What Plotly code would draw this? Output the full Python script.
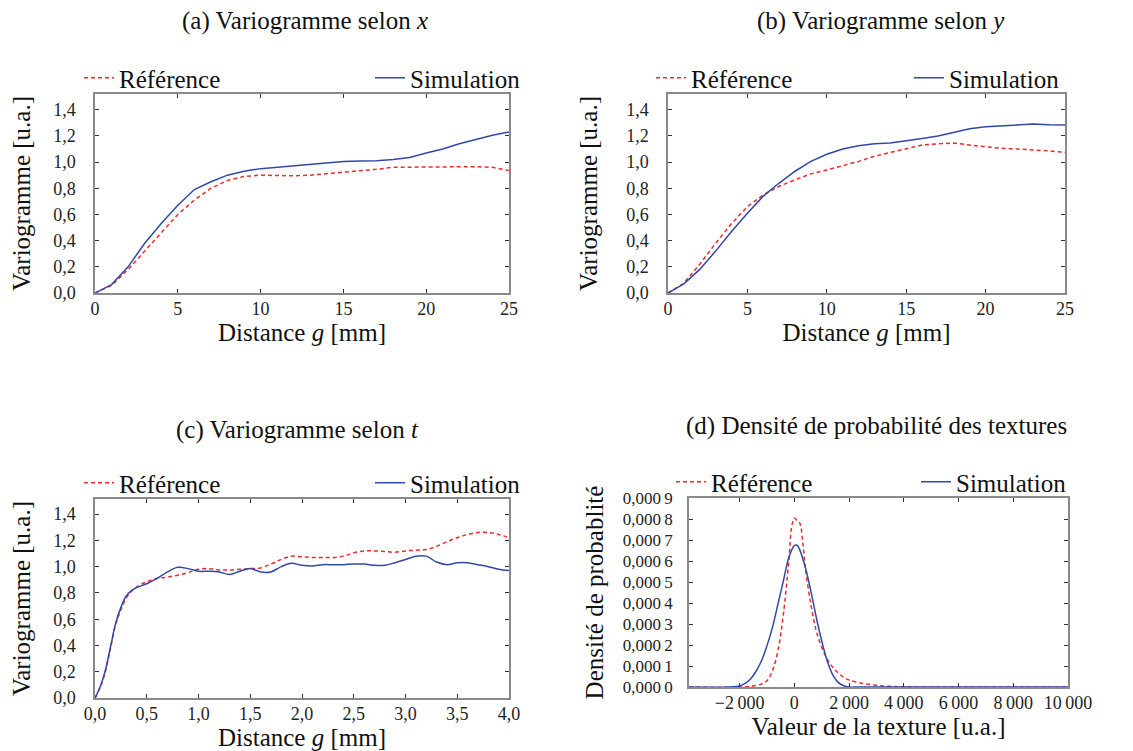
import plotly.graph_objects as go

# (a) variogram along x
gx = list(range(26))
ref_a = [0, 0.058, 0.18, 0.32, 0.46, 0.60, 0.71, 0.80, 0.86, 0.89, 0.90, 0.898, 0.895, 0.90, 0.91,
         0.92, 0.935, 0.945, 0.96, 0.962, 0.96, 0.962, 0.965, 0.965, 0.96, 0.935]
sim_a = [0, 0.064, 0.20, 0.38, 0.53, 0.67, 0.79, 0.85, 0.90, 0.93, 0.95, 0.96, 0.97, 0.985, 0.995,
         1.005, 1.008, 1.01, 1.02, 1.035, 1.07, 1.10, 1.14, 1.175, 1.205, 1.23]

# (b) variogram along y
ref_b = [0, 0.075, 0.22, 0.38, 0.53, 0.66, 0.75, 0.815, 0.865, 0.91, 0.94, 0.97, 1.005, 1.045, 1.075,
         1.105, 1.13, 1.14, 1.145, 1.13, 1.115, 1.105, 1.10, 1.095, 1.085, 1.075]
sim_b = [0, 0.07, 0.18, 0.32, 0.47, 0.61, 0.74, 0.84, 0.93, 1.005, 1.06, 1.10, 1.125, 1.14, 1.145,
         1.16, 1.18, 1.20, 1.23, 1.255, 1.27, 1.275, 1.28, 1.29, 1.285, 1.283]

# (c) variogram along t
gt = [0, 0.05, 0.1, 0.15, 0.2, 0.25, 0.3, 0.35, 0.4, 0.5, 0.6, 0.7, 0.8, 0.9, 1.0, 1.1, 1.2, 1.3,
      1.4, 1.5, 1.6, 1.7, 1.8, 1.9, 2.0, 2.1, 2.2, 2.3, 2.4, 2.5, 2.6, 2.7, 2.8, 2.9, 3.0, 3.1,
      3.2, 3.3, 3.4, 3.5, 3.6, 3.7, 3.8, 3.9, 4.0]
ref_c = [0, 0.08, 0.20, 0.38, 0.56, 0.67, 0.76, 0.81, 0.845, 0.885, 0.91, 0.92, 0.935, 0.955, 0.98,
         0.985, 0.975, 0.975, 0.98, 0.985, 0.99, 1.02, 1.055, 1.08, 1.075, 1.07, 1.07, 1.07, 1.08,
         1.105, 1.12, 1.12, 1.115, 1.11, 1.12, 1.125, 1.13, 1.155, 1.19, 1.22, 1.245, 1.26, 1.26,
         1.245, 1.22]
sim_c = [0, 0.085, 0.21, 0.39, 0.57, 0.69, 0.775, 0.815, 0.84, 0.87, 0.91, 0.96, 0.995, 0.985, 0.965,
         0.965, 0.96, 0.94, 0.965, 0.985, 0.96, 0.96, 1.0, 1.025, 1.01, 1.005, 1.015, 1.015, 1.015,
         1.02, 1.02, 1.01, 1.01, 1.03, 1.055, 1.08, 1.08, 1.035, 1.015, 1.03, 1.03, 1.015, 1.0,
         0.98, 0.97]

# (d) probability density of textures
tex_ref = [-3850, -2000, -1600, -1200, -1000, -800, -600, -400, -200, -100, 0, 100, 200, 300, 400,
           600, 800, 1000, 1200, 1400, 1600, 1800, 2000, 2500, 3000, 3500, 4000, 5000, 10000]
dens_ref = [0, 0, 0.000003, 0.000014, 0.00003, 0.000078, 0.000173, 0.000348, 0.000602, 0.00076,
            0.000805, 0.000792, 0.00078, 0.000697, 0.00057, 0.000395, 0.000268, 0.000189, 0.000133,
            0.000094, 0.000067, 0.000046, 0.000033, 0.000017, 0.000008, 0.000003, 0.000001, 0, 0]
tex_sim = [-3850, -2400, -2000, -1800, -1600, -1400, -1200, -1000, -800, -600, -400, -200, 0, 100,
           200, 400, 600, 800, 1000, 1200, 1400, 1600, 1800, 2000, 2400, 10000]
dens_sim = [0, 0, 0.000005, 0.000017, 0.000038, 0.000075, 0.000125, 0.000197, 0.000284, 0.000395,
            0.000506, 0.000617, 0.000673, 0.000675, 0.000652, 0.00057, 0.000459, 0.000332, 0.00022,
            0.000125, 0.000059, 0.000022, 0.000006, 0, 0, 0]

vario_ticks = [0, 0.2, 0.4, 0.6, 0.8, 1.0, 1.2, 1.4]
vario_labels = ["0,0", "0,2", "0,4", "0,6", "0,8", "1,0", "1,2", "1,4"]
t_ticks = [0, 0.5, 1, 1.5, 2, 2.5, 3, 3.5, 4]
t_labels = ["0,0", "0,5", "1,0", "1,5", "2,0", "2,5", "3,0", "3,5", "4,0"]
dens_ticks = [i / 10000 for i in range(10)]
dens_labels = ["0,000\u2009%d" % i for i in range(10)]
tex_ticks = [-2000, 0, 2000, 4000, 6000, 8000, 10000]
tex_labels = ["\u22122\u2009000", "0", "2\u2009000", "4\u2009000", "6\u2009000", "8\u2009000", "10\u2009000"]

# page is drawn with the browser's 8px body margin, so positions below are page pixels
OFF = 8
W, H = 1120, 746
FONT = "'Liberation Serif', 'Times New Roman', 'DejaVu Serif', serif"
RED = "#f02a2a"
BLUE = "#3048a8"


def px(x):
    return (x - OFF) / W


def py(y):
    return 1 - (y - OFF) / H


fig = go.Figure()

panels = [
    (gx, ref_a, sim_a, "", "linear"),
    (gx, ref_b, sim_b, "2", "linear"),
    (gt, ref_c, sim_c, "3", "spline"),
]
leg = 1
for xs, r, s, ax, shape in panels:
    fig.add_trace(go.Scatter(x=xs, y=r, mode="lines", name="Référence",
                             line=dict(color=RED, width=1.5, dash="4px,3px", shape=shape),
                             xaxis="x" + ax, yaxis="y" + ax,
                             legend="legend" if leg == 1 else "legend%d" % leg))
    fig.add_trace(go.Scatter(x=xs, y=s, mode="lines", name="Simulation",
                             line=dict(color=BLUE, width=1.5, shape=shape),
                             xaxis="x" + ax, yaxis="y" + ax, legend="legend%d" % (leg + 1)))
    leg += 2

fig.add_trace(go.Scatter(x=tex_ref, y=dens_ref, mode="lines", name="Référence",
                         line=dict(color=RED, width=1.5, dash="4px,3px", shape="spline"),
                         xaxis="x4", yaxis="y4", legend="legend7"))
fig.add_trace(go.Scatter(x=tex_sim, y=dens_sim, mode="lines", name="Simulation",
                         line=dict(color=BLUE, width=1.5, shape="spline"),
                         xaxis="x4", yaxis="y4", legend="legend8"))

tickfont = dict(family=FONT, size=18, color="#222")
titlefont = dict(family=FONT, size=25, color="#111")


def xaxis(dom, rng, tv, tt, anchor):
    return dict(domain=[px(dom[0]), px(dom[1])], range=rng, tickvals=tv, ticktext=tt,
                anchor=anchor, showgrid=False, zeroline=False, showline=True, automargin=False,
                linecolor="#8a8a8a", linewidth=2, mirror="ticks", ticks="inside",
                ticklen=4, tickcolor="#333", tickfont=tickfont, ticklabelstandoff=-2,
                title=dict(font=titlefont, standoff=4))


def yaxis(dom, rng, tv, tt, anchor):
    return dict(domain=[py(dom[1]), py(dom[0])], range=rng, tickvals=tv, ticktext=tt,
                anchor=anchor, showgrid=False, zeroline=False, showline=True, automargin=False,
                linecolor="#8a8a8a", linewidth=1.5, mirror="ticks", ticks="inside",
                ticklen=4, tickcolor="#333", tickfont=tickfont, ticklabelstandoff=14,
                title=dict(font=titlefont, standoff=21))


xa = xaxis((95, 509), [0, 25], [0, 5, 10, 15, 20, 25], ["0", "5", "10", "15", "20", "25"], "y")
xa["title"]["text"] = "Distance <i>g</i> [mm]"
ya = yaxis((94, 293), [0, 1.52], vario_ticks, vario_labels, "x")
ya["title"]["text"] = "Variogramme [u.a.]"

xb = xaxis((668, 1065), [0, 25], [0, 5, 10, 15, 20, 25], ["0", "5", "10", "15", "20", "25"], "y2")
xb["title"]["text"] = "Distance <i>g</i> [mm]"
yb = yaxis((94, 293), [0, 1.52], vario_ticks, vario_labels, "x2")
yb["title"]["text"] = "Variogramme [u.a.]"

xc = xaxis((95, 509), [0, 4], t_ticks, t_labels, "y3")
xc["title"]["text"] = "Distance <i>g</i> [mm]"
yc = yaxis((499, 698), [0, 1.515], vario_ticks, vario_labels, "x3")
yc["title"]["text"] = "Variogramme [u.a.]"

xd = xaxis((689, 1068), [-3850, 10000], tex_ticks, tex_labels, "y4")
xd["title"]["text"] = "Valeur de la texture [u.a.]"
yd = yaxis((498, 687), [0, 0.0009], dens_ticks, dens_labels, "x4")
yd["title"]["text"] = "Densité de probablité"
yd["ticklabelstandoff"] = 11
yd["title"]["standoff"] = 12
yd["tickfont"] = dict(family=FONT, size=17, color="#222")


def legend_at(x, y, anchor):
    return dict(x=px(x), y=py(y), xanchor=anchor, yanchor="middle", bgcolor="rgba(0,0,0,0)",
                borderwidth=0, itemwidth=30, font=dict(family=FONT, size=25, color="#111"),
                orientation="h")


layout_legends = {
    "legend": legend_at(79, 78, "left"),
    "legend2": legend_at(526, 78, "right"),
    "legend3": legend_at(651, 78, "left"),
    "legend4": legend_at(1065, 78, "right"),
    "legend5": legend_at(79, 483, "left"),
    "legend6": legend_at(526, 483, "right"),
    "legend7": legend_at(671, 482, "left"),
    "legend8": legend_at(1072, 482, "right"),
}

titles = [
    ("(a) Variogramme selon <i>x</i>", 305, 21),
    ("(b) Variogramme selon <i>y</i>", 881, 21),
    ("(c) Variogramme selon <i>t</i>", 297, 430),
    ("(d) Densité de probabilité des textures", 876, 426),
]
annotations = [dict(text=t, x=px(x), y=py(y), xref="paper", yref="paper", showarrow=False,
                    xanchor="center", yanchor="middle", font=dict(family=FONT, size=25, color="#111"))
               for t, x, y in titles]

fig.update_layout(
    width=W, height=H,
    margin=dict(l=0, r=0, t=0, b=0),
    paper_bgcolor="white", plot_bgcolor="white",
    showlegend=True,
    xaxis=xa, yaxis=ya, xaxis2=xb, yaxis2=yb, xaxis3=xc, yaxis3=yc, xaxis4=xd, yaxis4=yd,
    annotations=annotations,
    **layout_legends,
)

fig.write_html("out.html")
